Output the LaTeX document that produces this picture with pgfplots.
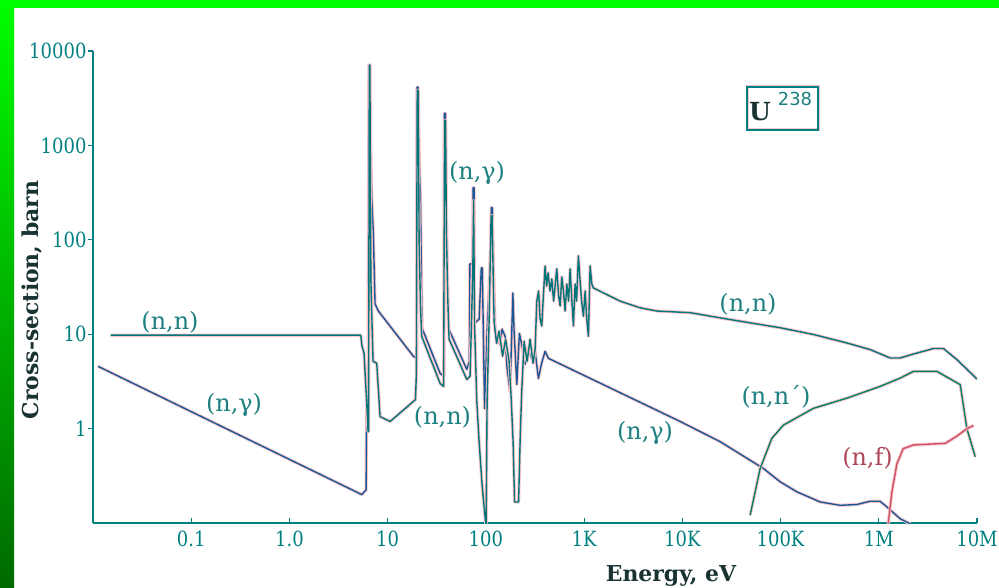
\documentclass[border=0pt]{standalone}
\usepackage{pgfplots}
\pgfplotsset{compat=1.18}
\usepackage{fontspec}
\setmainfont{DejaVu Serif}
\newfontfamily\digitsans{DejaVu Sans}
\newfontfamily\tickfont[FakeStretch=0.86]{DejaVu Serif}

\definecolor{frameG}{RGB}{0,255,0}
\definecolor{frameD}{RGB}{0,105,0}
\definecolor{axisteal}{RGB}{0,128,128}
\definecolor{elastic}{RGB}{0,118,122}
\definecolor{capture}{RGB}{25,88,150}
\definecolor{inelastic}{RGB}{0,128,105}
\definecolor{fission}{RGB}{205,85,105}
\definecolor{fringe}{RGB}{250,195,200}
\definecolor{labelteal}{RGB}{30,128,128}
\definecolor{darklabel}{RGB}{25,50,50}

\newcommand\lbl{\fontsize{24}{26}\selectfont}

\begin{document}
\begin{tikzpicture}
% page background with the green frame
\fill[white] (0bp,0bp) rectangle (999bp,588bp);
\shade[top color=frameG, bottom color=frameD] (0bp,0bp) rectangle (14bp,588bp);
\fill[frameG] (0bp,580bp) rectangle (999bp,588bp);

\begin{axis}[
  at={(93bp,65bp)}, anchor=south west,
  scale only axis, width=884bp, height=472bp,
  xmode=log, ymode=log,
  xmin=0.01, xmax=1e7, ymin=0.1, ymax=1e4,
  axis lines=left,
  axis line style={-, draw=axisteal, line width=1.3bp},
  xminorticks=false, yminorticks=false,
  xtick={0.1,1,10,100,1000,10000,100000,1000000,10000000},
  xticklabels={0.1,1.0,10,100,1K,10K,100K,1M,10M},
  ytick={1,10,100,1000,10000},
  yticklabels={1,10,100,1000,10000},
  tick align=inside,
  major tick length=5bp,
  tick style={draw=axisteal, line width=1.2bp},
  every major y tick/.append style={xshift=-5bp},
  tick label style={font=\tickfont\fontsize{21}{22}\selectfont, text=axisteal},
  xticklabel style={yshift=-4bp},
  yticklabel style={xshift=-3bp},
  every axis plot/.append style={line width=1.4bp, line join=round, no markers},
  fr/.style={preaction={draw=fringe, line width=3.2bp}},
]

% radiative capture (n,gamma)
\addplot[capture, fr] coordinates {
(0.01125,4.57) (5.45,0.200) (6.03,0.224) (6.10,1.52) (6.32,4.04)
(6.44,7100) (6.62,7100) (6.70,1217) (6.89,280) (7.15,116) (7.44,20.9)
(8.04,17.6) (18.3,5.83) (19.8,5.55) (19.9,4140) (20.4,4140) (20.6,1845)
(21.1,583) (21.6,260) (22.1,34.0) (22.4,11.6) (34.2,3.85) (37.4,3.57)
(37.8,2190) (38.7,2190) (39.2,480) (40.3,64.4) (41.5,11.6) (63.9,4.24)
(67.9,5.16) (68.7,55.6) (73.2,55.6) (74.1,357) (75.8,357) (76.7,13.1)
(85.3,14.4) (89.8,50.4) (91.9,50.4) (97.0,1.63) (102.9,10.8) (111.7,76.4)
(113.5,219) (116.2,219) (118.4,76.4) (124.1,10.8) (130.0,9.07) (139.5,7.83)
(146.2,11.3) (156.9,9.52) (164.4,4.35) (176.3,2.47) (188.3,27.3) (193.7,10.8)
(206.4,2.94) (219.4,10.2) (233.7,7.45) (250.6,4.80) (271.0,7.10) (291.9,5.55)
(317.0,6.59) (342.6,3.40) (369.2,4.92) (400.7,6.59) (433.3,5.55)
(9500,1.19) (24270,0.727) (67000,0.378) (99100,0.273) (146600,0.214)
(253000,0.167) (404600,0.154) (598400,0.157) (817000,0.170) (1.03e6,0.170)
(1.209e6,0.148) (1.652e6,0.111) (2.089e6,0.098)
};

% elastic scattering (n,n)
\addplot[elastic, fr] coordinates {
(0.01514,9.76) (5.32,9.76) (5.49,7.45) (5.75,6.28) (5.89,3.85) (6.10,2.03)
(6.32,0.93) (6.39,0.93) (6.50,7100) (6.59,7100) (6.75,36.6) (7.10,5.16)
(7.74,4.92) (8.37,1.34) (10.6,1.19) (19.2,2.03) (19.6,3.85) (20.0,3850)
(20.5,3850) (20.9,97.6) (21.6,19.9) (22.2,9.52) (34.2,3.01) (37.1,2.80)
(38.0,1845) (38.9,1845) (39.6,125) (41.0,22.4) (42.2,8.85) (63.9,3.32)
(69.0,3.57) (73.6,46.8) (75.0,260) (76.7,12.2) (80.8,1.94) (85.3,0.727)
(91.5,0.254) (97.0,0.131) (100.5,0.091) (102.9,1.94) (107.8,13.7) (113.0,180)
(115.6,180) (121.2,13.7) (128.5,8.02) (136.3,10.8) (148.0,5.83) (158.7,8.85)
(172.3,5.16) (180.6,2.19) (189.2,0.727) (196.0,0.167) (215.3,0.167)
(223.0,0.727) (231.0,2.30) (244.9,8.43) (262.8,5.16) (281.8,8.85) (302.5,4.92)
(317.0,6.92)
(329.8,22.4) (344.2,28.7) (356.5,14.4) (370.8,12.2) (382.3,22.4) (400.7,52.9)
(415.1,32.4) (429.8,44.6) (450.5,28.7) (469.0,38.5) (489.1,22.4) (506.6,32.4)
(527.2,49.2) (550.0,25.4) (569.8,19.9) (592.9,40.4) (618.5,27.3) (640.8,17.6)
(666.8,34.0) (695.5,22.4) (720.3,49.2) (746.1,25.4) (778.4,12.2) (809.4,34.0)
(838.8,22.4) (874.9,67.6) (910.5,36.6) (943.0,22.4) (983.8,15.5) (1024,28.7)
(1065,14.4) (1106,9.52) (1151,52.9) (1198,34.0) (1244,30.9)
(2328,22.4) (3718,19.05) (5500,17.6) (12000,16.9) (30680,14.3)
(99100,11.7) (216300,9.93) (473000,8.08) (817000,6.87) (1.306e6,5.60)
(1.652e6,5.60) (2.256e6,6.17) (3.606e6,7.05) (4.56e6,7.05) (6.24e6,5.38)
(1.0e7,3.35)
};

% inelastic scattering (n,n')
\addplot[inelastic, fr] coordinates {
(49000,0.121) (62000,0.378) (81500,0.789) (107000,1.09) (216300,1.64)
(473000,2.10) (1.033e6,2.80) (1.652e6,3.43) (2.256e6,4.04) (3.905e6,4.04)
(6.75e6,2.92) (7.89e6,1.00) (9.59e6,0.504)
};

% fission (n,f)
\addplot[fission, fr] coordinates {
(1.247e6,0.098) (1.36e6,0.214) (1.53e6,0.424) (1.773e6,0.613) (2.256e6,0.671)
(4.75e6,0.698) (6.14e6,0.822) (7.89e6,1.00) (9.21e6,1.076)
};
\end{axis}

% curve labels
\begin{scope}[every node/.style={text=labelteal, font=\lbl, inner sep=0pt}]
\node at (170bp,266bp) {(n,n)};
\node at (234bp,183bp) {(n,γ)};
\node at (477bp,415bp) {(n,γ)};
\node at (442.5bp,171bp) {(n,n)};
\node at (748bp,284bp) {(n,n)};
\node at (776bp,191bp) {(n,n´)};
\node at (645bp,155bp) {(n,γ)};
\node[text=fission!85!black] at (867.5bp,130bp) {(n,f)};
\end{scope}

% nuclide tag
\draw[axisteal, line width=1.3bp, preaction={draw=fringe, line width=3bp}]
  (747bp,458bp) rectangle (818bp,501bp);
\node[font=\fontsize{25}{25}\selectfont\bfseries, text=darklabel, inner sep=0pt]
  at (760bp,476bp) {U};
\node[font=\digitsans\fontsize{18}{18}\selectfont, text=labelteal, inner sep=0pt]
  at (795bp,489bp) {238};

% axis titles
\node[rotate=90, text=darklabel, font=\fontsize{22}{24}\selectfont\bfseries]
  at (32bp,288bp) {Cross-section, barn};
\node[text=darklabel, font=\fontsize{22}{24}\selectfont\bfseries]
  at (671bp,12bp) {Energy, eV};

\pgfresetboundingbox
\useasboundingbox (0bp,0bp) rectangle (999bp,588bp);
\end{tikzpicture}
\end{document}
